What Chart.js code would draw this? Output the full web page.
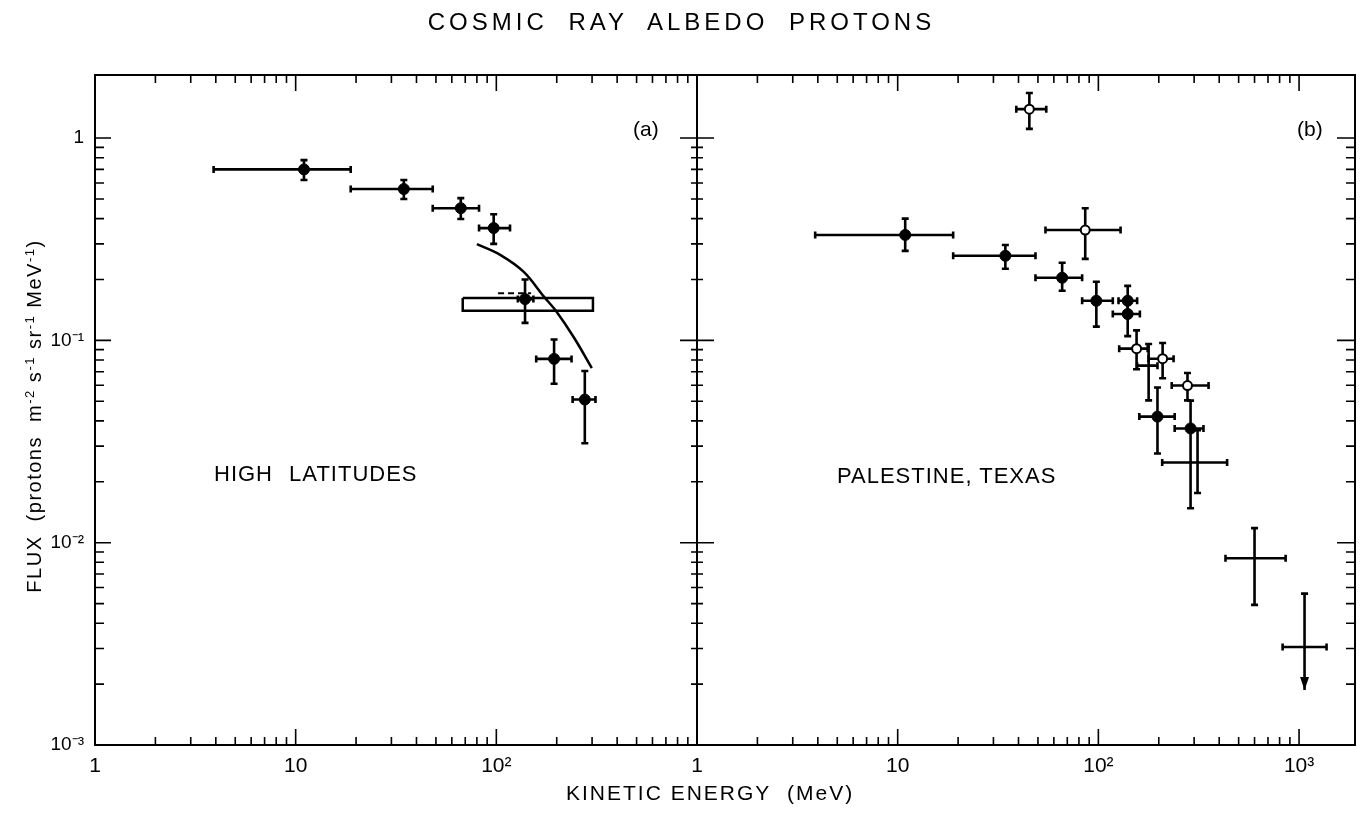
<!DOCTYPE html>
<html>
<head>
<meta charset="utf-8">
<script src="https://cdn.jsdelivr.net/npm/chart.js@4.4.0/dist/chart.umd.min.js"></script>
<style>
html,body{margin:0;padding:0;background:#fff;}
#wrap{position:relative;width:1363px;height:813px;overflow:hidden;font-family:"Liberation Sans",Arial,sans-serif;color:#000;background:#fff;}
canvas{position:absolute;left:0;top:0;}
.t{position:absolute;white-space:nowrap;line-height:1;}
sup{font-size:65%;vertical-align:0.55em;line-height:0;}
</style>
</head>
<body>
<div id="wrap">
<canvas id="ca" width="1363" height="813"></canvas>
<canvas id="cb" width="1363" height="813"></canvas>
<div class="t" style="left:0;width:1363px;text-align:center;top:10px;font-size:24px;letter-spacing:4px;word-spacing:10px;">COSMIC RAY ALBEDO PROTONS</div>
<div class="t" style="left:566px;top:782px;font-size:21px;letter-spacing:2px;">KINETIC ENERGY&nbsp; (MeV)</div>
<div class="t" style="left:-176px;top:406px;width:420px;text-align:center;font-size:20px;letter-spacing:1.5px;transform:rotate(-90deg);">FLUX&nbsp; (protons&nbsp; m<sup>-2</sup> s<sup>-1</sup> sr<sup>-1</sup> MeV<sup>-1</sup>)</div>
<div class="t" style="left:633px;top:118px;font-size:21px;">(a)</div>
<div class="t" style="left:1297px;top:118px;font-size:21px;">(b)</div>
<div class="t" style="left:214px;top:463px;font-size:22px;letter-spacing:1px;word-spacing:9px;">HIGH LATITUDES</div>
<div class="t" style="left:837px;top:465px;font-size:22px;letter-spacing:1px;">PALESTINE, TEXAS</div>
</div>
<script>
// ---------- tick labels ----------
const xMajorLeft = [1, 10, 100];
const xMajorLabelsLeft = ['1', '10', '10²'];
const xMajorRight = [1, 10, 100, 1000];
const xMajorLabelsRight = ['1', '10', '10²', '10³'];
const yMajor = [0.001, 0.01, 0.1, 1];
const yMajorLabels = ['10⁻³', '10⁻²', '10⁻¹', '1'];

// ---------- panel (a): high latitudes ----------
const aE    = [11.0, 34.6, 66.5, 97, 139, 194, 276];
const aElo  = [3.9, 18.8, 48.2, 82, 128, 158, 240];
const aEhi  = [18.8, 48.2, 82, 117, 153, 237, 312];
const aF    = [0.70, 0.56, 0.45, 0.359, 0.160, 0.081, 0.051];
const aFlo  = [0.62, 0.50, 0.398, 0.30, 0.122, 0.061, 0.031];
const aFhi  = [0.778, 0.62, 0.505, 0.42, 0.20, 0.101, 0.0706];

const curveE = [80, 105, 137, 173, 198, 244, 299];
const curveF = [0.299, 0.264, 0.218, 0.164, 0.140, 0.103, 0.073];

const boxE = [68, 303, 303, 68, 68];
const boxF = [0.162, 0.162, 0.140, 0.140, 0.162];

const dashE = [102, 149];
const dashF = [0.171, 0.171];

// ---------- panel (b): Palestine, Texas ----------
const bFilledE   = [10.9, 34.4, 66, 97.7, 140, 140, 197, 288];
const bFilledElo = [3.88, 18.9, 48.6, 83, 126, 118, 160, 240];
const bFilledEhi = [18.9, 48.6, 83, 118, 156, 161, 240, 334];
const bFilledF   = [0.332, 0.262, 0.204, 0.157, 0.157, 0.135, 0.042, 0.0367];
const bFilledFlo = [0.277, 0.226, 0.176, 0.117, 0.13, 0.105, 0.0276, 0.0148];
const bFilledFhi = [0.40, 0.296, 0.242, 0.195, 0.186, 0.16, 0.0585, 0.0504];

const bOpenE   = [45.3, 86, 155, 209, 278];
const bOpenElo = [39, 54.5, 127, 178, 232];
const bOpenEhi = [55, 129, 176, 237, 354];
const bOpenF   = [1.39, 0.351, 0.091, 0.0812, 0.0598];
const bOpenFlo = [1.11, 0.253, 0.072, 0.065, 0.0505];
const bOpenFhi = [1.67, 0.45, 0.112, 0.097, 0.069];

const bPlainE   = [178, 312, 600, 1065];
const bPlainElo = [156, 208, 430, 828];
const bPlainEhi = [197, 438, 857, 1371];
const bPlainF   = [0.075, 0.0249, 0.00838, 0.00305];
const bPlainFlo = [0.0505, 0.0176, 0.00493, 0.00187];
const bPlainFhi = [0.096, 0.036, 0.0118, 0.0056];
const bPlainUpperLimit = [false, false, false, true];

// ---------- helpers ----------
function pts(E, F, Elo, Ehi, Flo, Fhi, arrow) {
  return E.map((e, i) => ({
    x: e, y: F[i],
    xMin: Elo ? Elo[i] : undefined, xMax: Ehi ? Ehi[i] : undefined,
    yMin: Flo ? Flo[i] : undefined, yMax: Fhi ? Fhi[i] : undefined,
    arrow: arrow ? arrow[i] : false
  }));
}
function isMajor(v) {
  const l = Math.log10(v);
  return Math.abs(l - Math.round(l)) < 1e-6;
}
function decadeTicks(lo, hi) {
  const out = [];
  for (let d = lo; d < hi; d *= 10) {
    for (let k = 1; k <= 9; k++) out.push(+(d * k).toPrecision(6));
  }
  out.push(hi);
  return out;
}
const xTickVals = decadeTicks(1, 1000);
const yTickVals = decadeTicks(0.001, 1);
const FAM = '"Liberation Sans", Arial, sans-serif';

const errorBars = {
  id: 'errorBars',
  beforeDatasetsDraw(chart) {
    const {ctx, scales: {x, y}} = chart;
    ctx.save();
    ctx.strokeStyle = '#000';
    ctx.fillStyle = '#000';
    ctx.lineWidth = 2.6;
    ctx.lineCap = 'butt';
    const cap = 3.5;
    chart.data.datasets.forEach(ds => {
      if (!ds.errorBars) return;
      ds.data.forEach(p => {
        const px = x.getPixelForValue(p.x), py = y.getPixelForValue(p.y);
        ctx.beginPath();
        if (p.xMin !== undefined) {
          const a = x.getPixelForValue(p.xMin), b = x.getPixelForValue(p.xMax);
          ctx.moveTo(a, py); ctx.lineTo(b, py);
          ctx.moveTo(a, py - cap); ctx.lineTo(a, py + cap);
          ctx.moveTo(b, py - cap); ctx.lineTo(b, py + cap);
        }
        if (p.yMin !== undefined) {
          const a = y.getPixelForValue(p.yMin), b = y.getPixelForValue(p.yMax);
          ctx.moveTo(px, a); ctx.lineTo(px, b);
          ctx.moveTo(px - cap, b); ctx.lineTo(px + cap, b);
          if (!p.arrow) { ctx.moveTo(px - cap, a); ctx.lineTo(px + cap, a); }
        }
        ctx.stroke();
        if (p.arrow) {
          const a = y.getPixelForValue(p.yMin);
          ctx.beginPath();
          ctx.moveTo(px - 4.5, a - 13); ctx.lineTo(px + 4.5, a - 13); ctx.lineTo(px, a);
          ctx.closePath(); ctx.fill();
        }
      });
    });
    ctx.restore();
  }
};

const frameTicks = {
  id: 'frameTicks',
  afterDatasetsDraw(chart, args, opts) {
    const {ctx, chartArea: a, scales: {x, y}} = chart;
    ctx.save();
    ctx.strokeStyle = '#000';
    ctx.lineWidth = 2;
    ctx.strokeRect(a.left, a.top, a.right - a.left, a.bottom - a.top);
    ctx.lineWidth = 1.6;
    ctx.beginPath();
    xTickVals.forEach(v => {
      const px = x.getPixelForValue(v);
      if (px < a.left + 1 || px > a.right - 1) return;
      const m = isMajor(v);
      const lb = m ? 16 : 8, lt = m ? 16 : 8;
      ctx.moveTo(px, a.bottom); ctx.lineTo(px, a.bottom - lb);
      ctx.moveTo(px, a.top); ctx.lineTo(px, a.top + lt);
    });
    yTickVals.forEach(v => {
      const py = y.getPixelForValue(v);
      if (py < a.top + 1 || py > a.bottom - 1) return;
      const m = isMajor(v);
      if (opts.side === 'left') {
        const l = m ? 16 : 9;
        ctx.moveTo(a.left, py); ctx.lineTo(a.left + l, py);
      } else {
        const l = m ? 17 : 6;
        ctx.moveTo(a.left - l, py); ctx.lineTo(a.left + l, py);
        const r = m ? 18 : 9;
        ctx.moveTo(a.right, py); ctx.lineTo(a.right - r, py);
      }
    });
    ctx.stroke();
    ctx.restore();
  }
};

function xScale(max, majors, labels) {
  return {
    type: 'logarithmic', min: 1, max: max, position: 'bottom',
    grid: {display: false, drawTicks: false}, border: {display: false},
    afterBuildTicks: s => { s.ticks = majors.map(v => ({value: v})); },
    ticks: {autoSkip: false, maxRotation: 0, minRotation: 0, padding: 9, color: '#000',
            font: {size: 21, family: FAM}, callback: (v, i) => labels[i]},
    afterFit: s => { s.height = 68; }
  };
}
function yScale(show) {
  return {
    type: 'logarithmic', min: 0.001, max: 2.05, position: 'left', display: show,
    grid: {display: false, drawTicks: false}, border: {display: false},
    afterBuildTicks: s => { s.ticks = yMajor.map(v => ({value: v})); },
    ticks: {autoSkip: false, padding: 11, color: '#000',
            font: {size: 19, family: FAM}, callback: (v, i) => yMajorLabels[i]},
    afterFit: s => { s.width = show ? 95 : 0; }
  };
}
const common = {
  responsive: false, animation: false, events: [],
  plugins: {legend: {display: false}, tooltip: {enabled: false}}
};

new Chart(document.getElementById('ca'), {
  type: 'scatter',
  data: {datasets: [
    {label: 'High latitudes', data: pts(aE, aF, aElo, aEhi, aFlo, aFhi), errorBars: true,
     pointRadius: 5.5, pointBackgroundColor: '#000', pointBorderColor: '#000', pointBorderWidth: 1},
    {label: 'Calculation', data: pts(curveE, curveF), showLine: true, tension: 0.35,
     borderColor: '#000', borderWidth: 2.5, pointRadius: 0, fill: false},
    {label: 'Box', data: pts(boxE, boxF), showLine: true, tension: 0,
     borderColor: '#000', borderWidth: 2.5, pointRadius: 0, fill: false},
    {label: 'Dashed', data: pts(dashE, dashF), showLine: true, tension: 0, borderDash: [6, 4],
     borderColor: '#000', borderWidth: 2, pointRadius: 0, fill: false}
  ]},
  options: Object.assign({}, common, {
    layout: {padding: {left: 0, right: 1363 - 697, top: 75, bottom: 0}},
    plugins: Object.assign({}, common.plugins, {frameTicks: {side: 'left'}}),
    scales: {x: xScale(1000, xMajorLeft, xMajorLabelsLeft), y: yScale(true)}
  }),
  plugins: [errorBars, frameTicks]
});

new Chart(document.getElementById('cb'), {
  type: 'scatter',
  data: {datasets: [
    {label: 'Plain', data: pts(bPlainE, bPlainF, bPlainElo, bPlainEhi, bPlainFlo, bPlainFhi, bPlainUpperLimit),
     errorBars: true, pointRadius: 0},
    {label: 'Filled', data: pts(bFilledE, bFilledF, bFilledElo, bFilledEhi, bFilledFlo, bFilledFhi), errorBars: true,
     pointRadius: 5.5, pointBackgroundColor: '#000', pointBorderColor: '#000', pointBorderWidth: 1},
    {label: 'Open', data: pts(bOpenE, bOpenF, bOpenElo, bOpenEhi, bOpenFlo, bOpenFhi), errorBars: true,
     pointRadius: 4.5, pointBackgroundColor: '#fff', pointBorderColor: '#000', pointBorderWidth: 2}
  ]},
  options: Object.assign({}, common, {
    layout: {padding: {left: 697, right: 8, top: 75, bottom: 0}},
    plugins: Object.assign({}, common.plugins, {frameTicks: {side: 'right'}}),
    scales: {x: xScale(1900, xMajorRight, xMajorLabelsRight), y: yScale(false)}
  }),
  plugins: [errorBars, frameTicks]
});
</script>
</body>
</html>
